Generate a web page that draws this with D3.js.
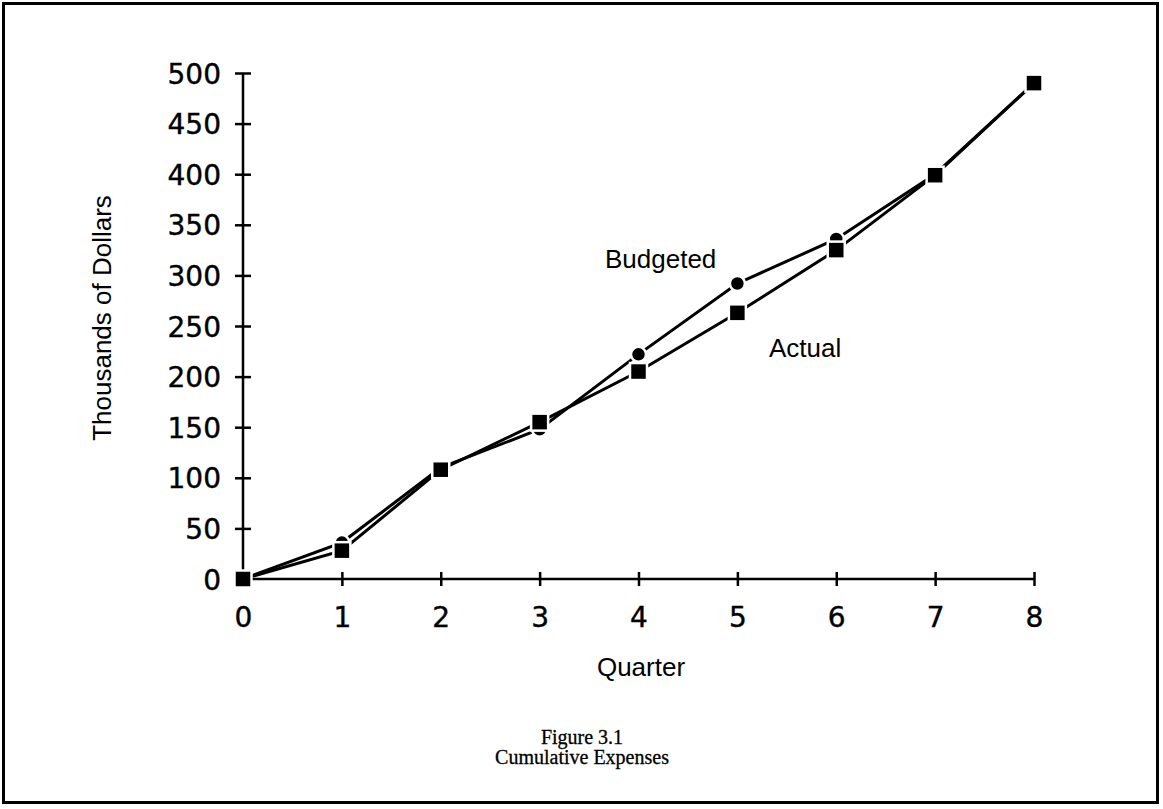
<!DOCTYPE html>
<html><head><meta charset="utf-8">
<script src="https://cdn.jsdelivr.net/npm/d3@7"></script>
<style>body{margin:0;background:#fff;}svg{display:block;}</style>
</head><body><svg id="c" width="1163" height="809"></svg>
<script>
const quarters = [0,1,2,3,4,5,6,7,8];
const budgeted = [0,36,110,148,222,292,336,400,490];
const actual   = [0,28,108,155,205,263,325,399,490];
const yTicks = [0,50,100,150,200,250,300,350,400,450,500];
const xTicks = [0,1,2,3,4,5,6,7,8];
const xTitle = "Quarter";
const yTitle = "Thousands of Dollars";
const caption = ["Figure 3.1","Cumulative Expenses"];

const svg = d3.select("#c");
svg.append("rect").attr("x",3.5).attr("y",3.5).attr("width",1154).attr("height",799)
  .attr("fill","none").attr("stroke","#000").attr("stroke-width",3);

const x = d3.scaleLinear().domain([0,8]).range([243,1034]);
const y = d3.scaleLinear().domain([0,500]).range([579,73]);

const tickFont = "'DejaVu Sans', sans-serif";
const yAx = svg.append("g").attr("transform","translate(243,0)")
  .call(d3.axisLeft(y).tickValues(yTicks).tickSize(8).tickPadding(14).tickFormat(d3.format("d")));
const xAx = svg.append("g").attr("transform","translate(0,579)")
  .call(d3.axisBottom(x).tickValues(xTicks).tickSize(7).tickPadding(21).tickFormat(d3.format("d")));
[yAx,xAx].forEach(g=>{
  g.select(".domain").attr("stroke","#000").attr("stroke-width",2.5);
  g.selectAll(".tick line").attr("stroke","#000").attr("stroke-width",2.5);
  g.selectAll(".tick text").attr("fill","#000").style("font-family",tickFont).style("font-size","28px")
    .attr("stroke","#000").attr("stroke-width",0.4);
});
yAx.selectAll(".tick line").attr("x1",8).attr("x2",-8);
yAx.selectAll(".tick text").attr("dy","0.36em");
xAx.selectAll(".tick line").attr("y1",-7).attr("y2",7);
xAx.selectAll(".tick text").attr("y",7+21).attr("dy","0.73em");
yAx.select(".domain").attr("d", `M0,${y(0)}V${y(500)}`);
xAx.select(".domain").attr("d", `M${x(0)},0H${x(8)}`);

const line = d3.line().x((d,i)=>x(quarters[i])).y(d=>y(d));
svg.append("path").datum(budgeted).attr("d",line).attr("fill","none").attr("stroke","#000").attr("stroke-width",3);
svg.append("path").datum(actual).attr("d",line).attr("fill","none").attr("stroke","#000").attr("stroke-width",3);

svg.append("g").selectAll("circle").data(budgeted).join("circle")
  .attr("cx",(d,i)=>x(quarters[i])).attr("cy",d=>y(d)).attr("r",7.5)
  .attr("fill","#000").attr("stroke","#fff").attr("stroke-width",2.5);
svg.append("g").selectAll("rect").data(actual).join("rect")
  .attr("x",(d,i)=>x(quarters[i])-8.5).attr("y",d=>y(d)-8.5).attr("width",17).attr("height",17)
  .attr("fill","#000").attr("stroke","#fff").attr("stroke-width",2.5);

const lf = "'Liberation Sans', Arial, sans-serif";
svg.append("text").attr("x",605).attr("y",268).text("Budgeted")
  .style("font-family",lf).style("font-size","26px");
svg.append("text").attr("x",769).attr("y",357).text("Actual")
  .style("font-family",lf).style("font-size","26px");
svg.append("text").attr("x",641).attr("y",676).attr("text-anchor","middle").text(xTitle)
  .style("font-family",lf).style("font-size","26px");
svg.append("text").attr("transform","translate(111,318) rotate(-90)").attr("text-anchor","middle").text(yTitle)
  .style("font-family",lf).style("font-size","26px");
svg.append("text").attr("x",582).attr("y",744).attr("text-anchor","middle").text(caption[0])
  .style("font-family","'Liberation Serif', serif").style("font-size","20px").attr("stroke","#000").attr("stroke-width",0.3);
svg.append("text").attr("x",582).attr("y",764).attr("text-anchor","middle").text(caption[1])
  .style("font-family","'Liberation Serif', serif").style("font-size","20px").attr("stroke","#000").attr("stroke-width",0.3);
</script></body></html>
